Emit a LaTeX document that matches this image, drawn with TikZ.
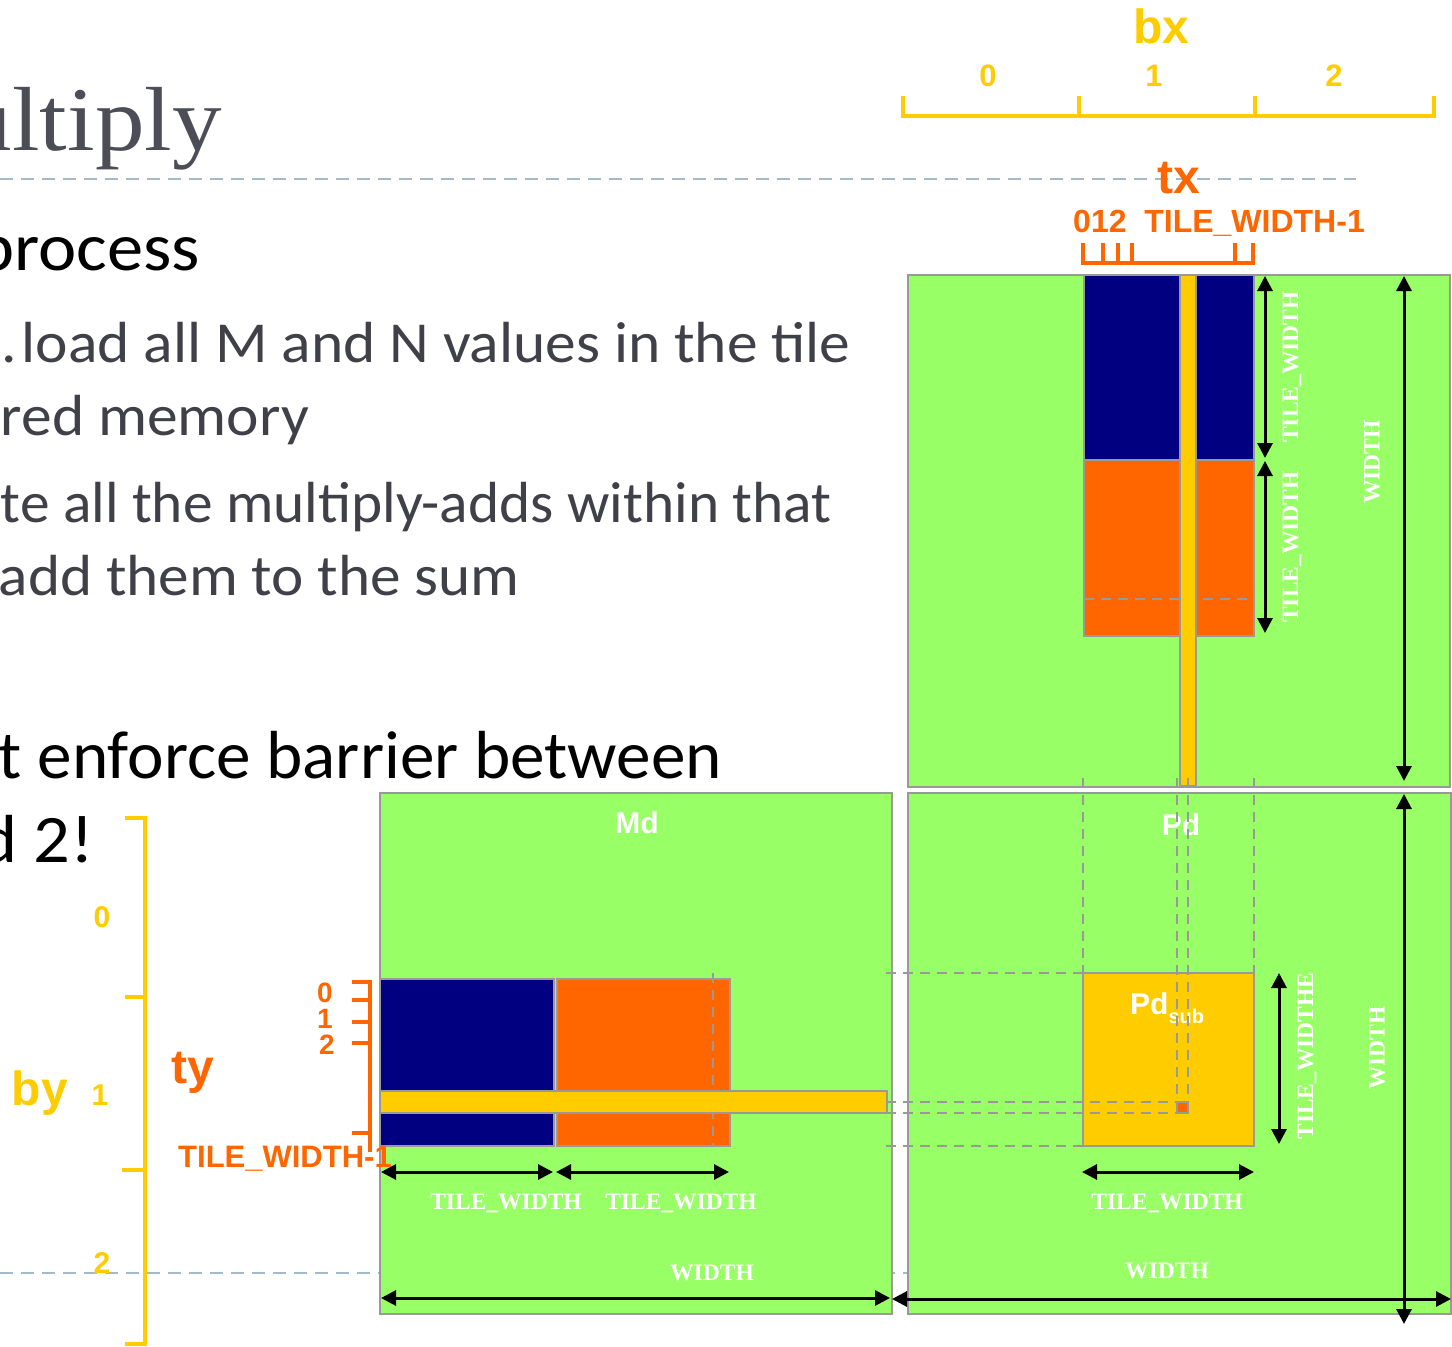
\documentclass[tikz,border=0pt]{standalone}
\usepackage{fontspec}
\usepackage{graphicx}
\usetikzlibrary{arrows.meta}
\newfontfamily\gillfont{Carlito}
\newfontfamily\arialfont{Liberation Sans}
\newfontfamily\timesfont{Liberation Serif}
\definecolor{matgreen}{HTML}{99FF66}
\definecolor{tilenavy}{HTML}{000080}
\definecolor{tileorange}{HTML}{FF6600}
\definecolor{tileyellow}{HTML}{FFCC00}
\definecolor{edgegray}{HTML}{999999}
\definecolor{rulegray}{HTML}{A5B9CD}
\definecolor{bodygray}{HTML}{404049}
\definecolor{titlegray}{HTML}{4D4D58}
\newcommand\fsz[1]{\fontsize{#1}{#1}\selectfont}
% set a text line to a given width, keeping its height
\newcommand\fitline[2]{\resizebox{#1pt}{\height}{#2}}
\newlength\gillref
\tikzset{
  panel/.style={draw=edgegray, line width=2.5pt, inner sep=0pt, outer sep=0pt, anchor=north west},
  guide/.style={draw=edgegray, line width=2.5pt, dash pattern=on 10pt off 7pt},
  slide rule/.style={draw=rulegray, line width=2.5pt, dash pattern=on 13pt off 8pt},
  dimarrow/.style={line width=3pt, {Triangle[length=15pt,width=15pt]}-{Triangle[length=15pt,width=15pt]}},
  dimlabel/.style={text=white, font=\timesfont\bfseries\fsz{23.5}, inner sep=0pt},
  boxlabel/.style={text=white, font=\arialfont\bfseries\fsz{30}, inner sep=0pt},
  idxrule/.style={line width=4pt, line join=miter},
  ylabel/.style={text=tileyellow, inner sep=0pt},
  olabel/.style={text=tileorange, inner sep=0pt},
  lvlone/.style={font=\gillfont\fsz{68}, text=black, inner sep=0pt, anchor=base east},
  lvltwo/.style={font=\gillfont\fsz{58}, text=bodygray, inner sep=0pt, anchor=base east},
}
\begin{document}
% horizontal scale of the body font
\settowidth\gillref{\gillfont\fsz{58}load all M and N values in the tile}
\pgfmathsetmacro\gillsx{834/\the\gillref}
\begin{tikzpicture}[x=1pt, y=-1pt]
\useasboundingbox (0,0) rectangle (1452,1347);
\clip (0,0) rectangle (1452,1347);
\fill[white] (0,0) rectangle (1452,1347);

% slide rules
\draw[slide rule] (0,179) -- (1356,179);
\draw[slide rule] (0,1273) -- (1452,1273);

% title and bullet text
\node[font=\timesfont\fsz{91}, text=titlegray, inner sep=0pt, anchor=base east] (title) at (222,150) {\scalebox{1.09}[1]{ultiply}};
\node[lvlone] (p1) at (200,270) {\scalebox{\gillsx}[1]{process}};
\node[lvltwo] (p2) at (851,362) {\fitline{829}{\llap{.\kern5pt}load all M and N values in the tile}};
\node[lvltwo] (p3) at (309,435) {\fitline{308}{red memory}};
\node[lvltwo] (p4) at (832,522) {\fitline{831}{te all the multiply-adds within that}};
\node[lvltwo] (p5) at (520,595) {\fitline{521}{add them to the sum}};
\node[lvlone] (p6) at (722,778) {\fitline{723}{t enforce barrier between}};
\node[lvlone] (p7) at (94,862) {\scalebox{\gillsx}[1]{d 2!}};

% block index bx
\draw[idxrule, tileyellow] (903,96) -- (903,116) -- (1434,116) -- (1434,96);
\draw[idxrule, tileyellow] (1079,96) -- (1079,116);
\draw[idxrule, tileyellow] (1255,96) -- (1255,116);
\node[ylabel, font=\arialfont\bfseries\fsz{48}, anchor=base] (bx) at (1161,43) {bx};
\node[ylabel, font=\arialfont\bfseries\fsz{31}] (bx0) at (988,76) {0};
\node[ylabel, font=\arialfont\bfseries\fsz{31}] (bx1) at (1154,76) {1};
\node[ylabel, font=\arialfont\bfseries\fsz{31}] (bx2) at (1334,76) {2};

% thread index tx
\draw[idxrule, tileorange] (1083,243) -- (1083,263) -- (1253,263) -- (1253,243);
\foreach \tk in {1103,1118,1132,1235}
  \draw[idxrule, tileorange] (\tk,243) -- (\tk,263);
\node[olabel, font=\arialfont\bfseries\fsz{48}, anchor=base] (tx) at (1179,193) {tx};
\node[olabel, font=\arialfont\bfseries\fsz{32}, anchor=base west] (txi) at (1073,232) {012\ \ TILE\_WIDTH-1};

% block index by
\draw[idxrule, tileyellow] (125,818) -- (145,818) -- (145,1344) -- (125,1344);
\draw[idxrule, tileyellow] (125,997) -- (145,997);
\draw[idxrule, tileyellow] (122,1170) -- (145,1170);
\node[ylabel, font=\arialfont\bfseries\fsz{48}, anchor=base] (by) at (40,1105) {by};
\node[ylabel, font=\arialfont\bfseries\fsz{30}] (by0) at (102,917) {0};
\node[ylabel, font=\arialfont\bfseries\fsz{30}] (by1) at (100,1095) {1};
\node[ylabel, font=\arialfont\bfseries\fsz{30}] (by2) at (102,1263) {2};

% matrices
\node[panel, fill=matgreen, minimum width=542, minimum height=512] (nd) at (908,275) {};
\node[panel, fill=matgreen, minimum width=512, minimum height=521] (md) at (380,793) {};
\node[panel, fill=matgreen, minimum width=543, minimum height=521] (pd) at (908,793) {};

% column tiles of the top matrix
\node[panel, fill=tilenavy, minimum width=170, minimum height=185] (ndtop) at (1084,275) {};
\node[panel, fill=tileorange, minimum width=170, minimum height=176] (ndnext) at (1084,460) {};
\draw[guide] (ndnext.west |- 0,599) -- (ndnext.east |- 0,599);
\node[panel, fill=tileyellow, minimum width=16, minimum height=511] (ncol) at (1180,275) {};

% row tiles of Md
\node[panel, fill=tilenavy, minimum width=174, minimum height=167] (mdleft) at (380,979) {};
\node[panel, fill=tileorange, minimum width=173, minimum height=167] (mdnext) at (557,979) {};
\draw[guide] (713,973) -- (713,1146);
\node[panel, fill=tileyellow, minimum width=507, minimum height=22] (mrow) at (380,1091) {};

% result tile
\node[panel, fill=tileyellow, minimum width=171, minimum height=173] (pdsub) at (1083,973) {};
\node[panel, fill=tileorange, line width=2pt, minimum width=11, minimum height=11] (pel) at (1177,1102) {};

% names
\node[boxlabel] (mdname) at (637,823) {Md};
\node[boxlabel] (pdname) at (1181,825) {Pd};
\node[boxlabel, anchor=base west] (pdsubname) at (1130,1014) {Pd\raisebox{-9pt}{\fsz{20}sub}};

% projection guides
\coordinate (gtop) at (0,778);
\coordinate (gleft) at (886,0);
\draw[guide] (pdsub.north west |- gtop) -- (pdsub.north west);
\draw[guide] (pdsub.north east |- gtop) -- (pdsub.north east);
\draw[guide] (pel.north west |- gtop) -- (pel.north west);
\draw[guide] (pel.north east |- gtop) -- (pel.north east);
\draw[guide] (gleft |- pdsub.north west) -- (pdsub.north west);
\draw[guide] (gleft |- pdsub.south west) -- (pdsub.south west);
\draw[guide] (gleft |- pel.north west) -- (pel.north west);
\draw[guide] (gleft |- pel.south west) -- (pel.south west);

% dimension arrows
\coordinate (a1l) at (381,1172); \coordinate (a1r) at (553,1172);
\coordinate (a2l) at (556,1172); \coordinate (a2r) at (729,1172);
\coordinate (a3l) at (381,1298); \coordinate (a3r) at (890,1298);
\coordinate (a4l) at (1082,1172); \coordinate (a4r) at (1254,1172);
\coordinate (a5l) at (892,1299); \coordinate (a5r) at (1451,1299);
\coordinate (a6t) at (1279,973); \coordinate (a6b) at (1279,1144);
\coordinate (a7t) at (1404,794); \coordinate (a7b) at (1404,1324);
\coordinate (a8t) at (1265,276); \coordinate (a8b) at (1265,458);
\coordinate (a9t) at (1265,461); \coordinate (a9b) at (1265,633);
\coordinate (a10t) at (1404,276); \coordinate (a10b) at (1404,781);
\foreach \u/\v in {a1l/a1r,a2l/a2r,a3l/a3r,a4l/a4r,a5l/a5r,a6t/a6b,a7t/a7b,a8t/a8b,a9t/a9b,a10t/a10b}
  \draw[dimarrow] (\u) -- (\v);

\node[dimlabel] (lw1) at (506,1203) {TILE\_WIDTH};
\node[dimlabel] (lw2) at (681,1203) {TILE\_WIDTH};
\node[dimlabel] (lw3) at (712,1273) {WIDTH};
\node[dimlabel] (lw4) at (1167,1203) {TILE\_WIDTH};
\node[dimlabel] (lw5) at (1167,1271) {WIDTH};
\node[dimlabel, rotate=90] (lw6) at (1292,367) {TILE\_WIDTH};
\node[dimlabel, rotate=90] (lw7) at (1292,547) {TILE\_WIDTH};
\node[dimlabel, rotate=90] (lw8) at (1372,462) {WIDTH};
\node[dimlabel, rotate=90] (lw9) at (1307,1056) {TILE\_WIDTHE};
\node[dimlabel, rotate=90] (lw10) at (1377,1048) {WIDTH};

% thread index ty
\draw[idxrule, tileorange] (352,982) -- (370,982) -- (370,1152);
\foreach \tk in {1000,1022,1043,1133}
  \draw[idxrule, tileorange] (352,\tk) -- (370,\tk);
\node[olabel, font=\arialfont\bfseries\fsz{48}, anchor=base] (ty) at (193,1083) {ty};
\node[olabel, font=\arialfont\bfseries\fsz{28}] (ty0) at (325,993) {0};
\node[olabel, font=\arialfont\bfseries\fsz{28}] (ty1) at (325,1019) {1};
\node[olabel, font=\arialfont\bfseries\fsz{28}] (ty2) at (327,1045) {2};
\node[olabel, font=\arialfont\bfseries\fsz{31}, anchor=base west] (tyw) at (178,1167) {TILE\_WIDTH-1};
\end{tikzpicture}
\end{document}
